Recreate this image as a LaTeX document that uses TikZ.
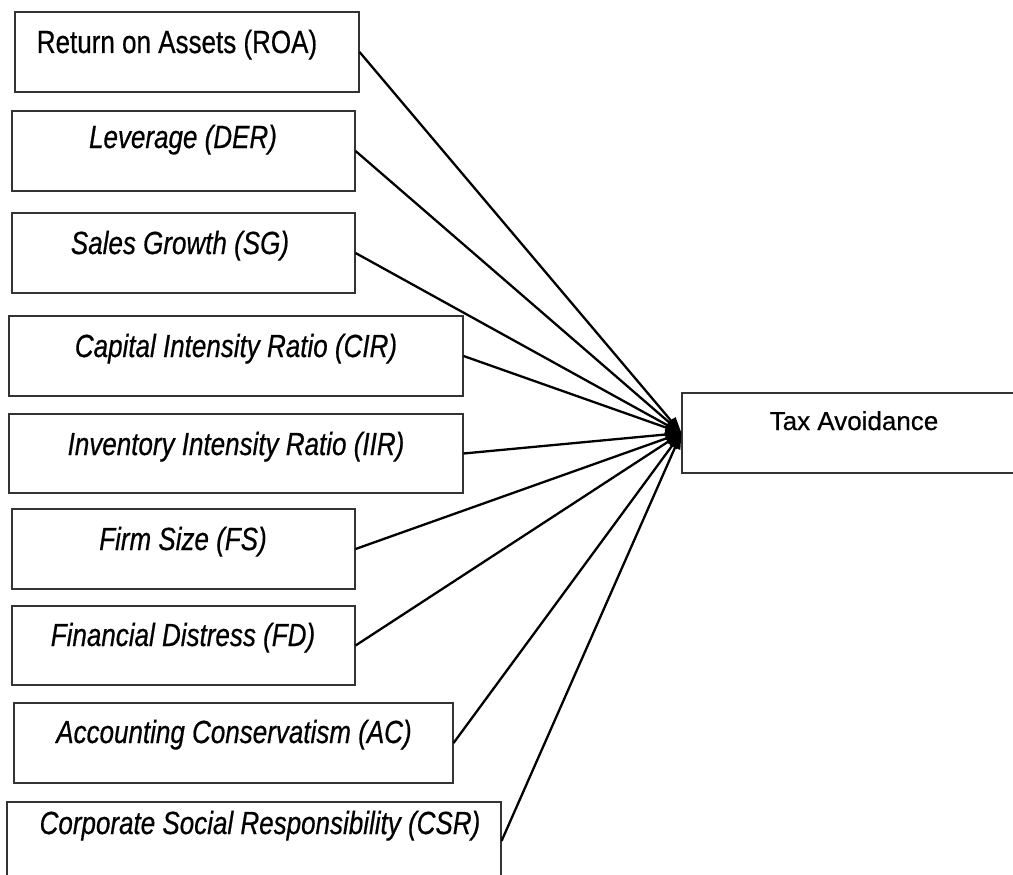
\documentclass[tikz,border=0pt]{standalone}
\usepackage{fontspec}
\setmainfont{Liberation Sans}[UprightFeatures={FakeBold=0.6},ItalicFeatures={FakeBold=0.6}]
\usetikzlibrary{arrows.meta}
\tikzset{
  box/.style={draw=black!80, line width=1.1pt, fill=white, inner sep=0pt, minimum height=80pt},
  txt/.style={anchor=base, inner sep=0pt, font=\fontsize{26}{30}\selectfont},
  conn/.style={draw=black, line width=2.3pt, -{Triangle[length=16pt,width=11pt]}}
}
\newcommand{\tallit}[1]{\scalebox{1}[1.23]{\itshape #1}}
\newcommand{\tallrm}[1]{\scalebox{1}[1.23]{#1}}
\begin{document}
\begin{tikzpicture}[x=1pt,y=-1pt]
\useasboundingbox (0,0) rectangle (1013,875);
\clip (0,0) rectangle (1013,875);
\node[box, minimum width=344pt] (roa) at (187,52) {};
\node[box, minimum width=343pt] (der) at (183.5,151) {};
\node[box, minimum width=343pt] (sg) at (183.5,253) {};
\node[box, minimum width=454pt] (cir) at (236,356) {};
\node[box, minimum width=454pt, minimum height=79pt] (iir) at (236,453.5) {};
\node[box, minimum width=343pt] (fs) at (183.5,549) {};
\node[box, minimum width=343pt, minimum height=79pt] (fd) at (183.5,645.5) {};
\node[box, minimum width=439pt] (ac) at (233.5,743) {};
\node[box, minimum width=494pt, minimum height=78pt] (csr) at (254,841) {};
\node[box, minimum width=344pt] (tax) at (854,433) {};

\node[txt] (troa) at (177,53) {\tallrm{Return on Assets (ROA)}};
\node[txt] (tder) at (183,148) {\tallit{Leverage (DER)}};
\node[txt] (tsg) at (180,254) {\tallit{Sales Growth (SG)}};
\node[txt] (tcir) at (236,357) {\tallit{Capital Intensity Ratio (CIR)}};
\node[txt] (tiir) at (236,455) {\tallit{Inventory Intensity Ratio (IIR)}};
\node[txt] (tfs) at (183,550) {\tallit{Firm Size (FS)}};
\node[txt] (tfd) at (183,646) {\tallit{Financial Distress (FD)}};
\node[txt] (tac) at (234,743) {\tallit{Accounting Conservatism (AC)}};
\node[txt] (tcsr) at (260,834) {\tallit{Corporate Social Responsibility (CSR)}};
\node[txt] (ttax) at (854,430) {Tax Avoidance};

\foreach \n in {roa,der,sg,cir,iir,fs,fd,ac,csr}{
  \draw[conn] (\n.east) -- (tax.west);
}
\end{tikzpicture}
\end{document}
